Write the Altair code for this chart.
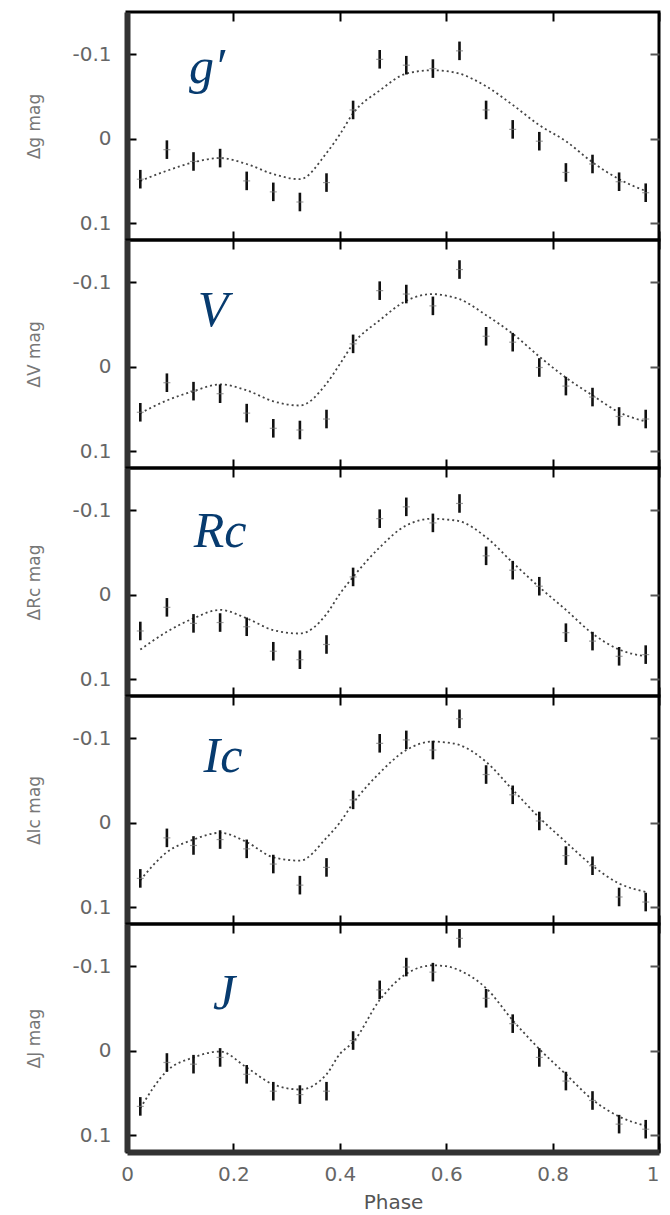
import altair as alt
import pandas as pd

# ---------------- data ----------------
phase = [0.025, 0.075, 0.125, 0.175, 0.225, 0.275, 0.325, 0.375, 0.425, 0.475,
         0.525, 0.575, 0.625, 0.675, 0.725, 0.775, 0.825, 0.875, 0.925, 0.975]

bands = ["g′", "V", "Rc", "Ic", "J"]
ytitles = ["Δg mag", "ΔV mag", "ΔRc mag", "ΔIc mag", "ΔJ mag"]

obs_g = [0.048, 0.013, 0.027, 0.023, 0.050, 0.063, 0.075, 0.052, -0.034, -0.094,
         -0.087, -0.083, -0.104, -0.034, -0.011, 0.003, 0.040, 0.030, 0.051, 0.064]
obs_V = [0.054, 0.019, 0.029, 0.032, 0.055, 0.073, 0.075, 0.062, -0.027, -0.090,
         -0.086, -0.072, -0.115, -0.036, -0.029, 0.001, 0.023, 0.036, 0.059, 0.062]
obs_Rc = [0.043, 0.015, 0.034, 0.033, 0.038, 0.067, 0.077, 0.059, -0.021, -0.090,
          -0.104, -0.085, -0.108, -0.046, -0.029, -0.010, 0.045, 0.055, 0.073, 0.071]
obs_Ic = [0.066, 0.018, 0.027, 0.020, 0.031, 0.049, 0.074, 0.053, -0.027, -0.094,
          -0.098, -0.086, -0.123, -0.057, -0.033, -0.002, 0.039, 0.051, 0.088, 0.094]
obs_J = [0.066, 0.014, 0.016, 0.008, 0.028, 0.048, 0.052, 0.048, -0.012, -0.072,
         -0.099, -0.093, -0.133, -0.062, -0.032, 0.008, 0.036, 0.059, 0.087, 0.093]

err = [0.011, 0.011, 0.011, 0.011, 0.011, 0.011, 0.011, 0.011, 0.011, 0.011,
       0.011, 0.011, 0.011, 0.011, 0.011, 0.011, 0.011, 0.011, 0.011, 0.011]

model_phase = [0.025, 0.075, 0.125, 0.175, 0.225, 0.275, 0.325, 0.375, 0.4, 0.425, 0.475,
               0.525, 0.575, 0.6, 0.625, 0.675, 0.725, 0.775, 0.825, 0.875, 0.925, 0.975]
model_g = [0.050, 0.038, 0.028, 0.023, 0.030, 0.042, 0.048, 0.017, -0.005, -0.030, -0.057,
           -0.077, -0.081, -0.080, -0.077, -0.062, -0.040, -0.016, 0.003, 0.028, 0.048, 0.062]
model_V = [0.055, 0.040, 0.029, 0.021, 0.028, 0.041, 0.046, 0.020, -0.003, -0.027, -0.055,
           -0.078, -0.086, -0.084, -0.080, -0.061, -0.039, -0.012, 0.013, 0.034, 0.054, 0.065]
model_Rc = [0.065, 0.044, 0.028, 0.018, 0.028, 0.042, 0.046, 0.023, -0.001, -0.021, -0.056,
            -0.082, -0.090, -0.089, -0.087, -0.068, -0.038, -0.009, 0.018, 0.046, 0.065, 0.073]
model_Ic = [0.068, 0.035, 0.020, 0.012, 0.023, 0.041, 0.045, 0.018, 0.000, -0.023, -0.059,
            -0.086, -0.096, -0.095, -0.092, -0.072, -0.039, -0.006, 0.023, 0.051, 0.072, 0.082]
model_J = [0.068, 0.024, 0.008, 0.001, 0.020, 0.040, 0.046, 0.028, 0.004, -0.010, -0.060,
           -0.091, -0.101, -0.100, -0.095, -0.074, -0.036, -0.002, 0.028, 0.058, 0.078, 0.089]

obs_all = [obs_g, obs_V, obs_Rc, obs_Ic, obs_J]
model_all = [model_g, model_V, model_Rc, model_Ic, model_J]

x_ticks = [0, 0.2, 0.4, 0.6, 0.8, 1]
y_ticks = [-0.1, 0, 0.1]

# ---------------- style ----------------
W, H = 532, 228
label_pos = [(80, 71), (86, 86), (93, 79), (96, 76), (97, 85)]
label_expr = "replace(format(datum.value, '~g'), '\u2212', '-')"
inward = {"expr": "-9"}

xs = alt.Scale(domain=[0, 1], nice=False, zero=False)
ys = alt.Scale(domain=[-0.15, 0.12], reverse=True, nice=False, zero=False)


def panel(i):
    bottom = i == len(bands) - 1
    obs = obs_all[i]
    df = pd.DataFrame({
        "phase": phase,
        "mag": obs,
        "lo": [o - e for o, e in zip(obs, err)],
        "hi": [o + e for o, e in zip(obs, err)],
    })
    mdf = pd.DataFrame({"phase": model_phase, "mag": model_all[i]})

    if bottom:
        x_bottom = alt.Axis(
            orient="bottom", values=x_ticks, tickSize=inward, tickWidth=2,
            tickColor="black", domain=True, domainColor="#333333", domainWidth=6,
            labels=True, labelPadding=21, labelFont="DejaVu Sans", labelFontSize=20,
            labelColor="#666666", labelExpr=label_expr, grid=False,
            labelAlign={"expr": "datum.value == 1 ? 'right' : 'center'"},
            title="Phase", titleFont="DejaVu Sans", titleFontSize=20,
            titleFontWeight="normal", titleColor="#555555", titlePadding=8,
        )
    else:
        x_bottom = alt.Axis(
            orient="bottom", values=x_ticks, tickSize=inward, tickWidth=2,
            tickColor="black", domain=False, labels=False, grid=False, title=None,
            minExtent=0, maxExtent=0,
        )
    y_left = alt.Axis(
        orient="left", values=y_ticks, tickSize=inward, tickWidth=2,
        tickColor="black", domain=True, domainColor="#333333", domainWidth=6,
        labelPadding=25, labelFont="DejaVu Sans", labelFontSize=20,
        labelColor="#666666", labelExpr=label_expr, grid=False,
        title=ytitles[i], titleFont="DejaVu Sans", titleFontSize=17,
        titleFontWeight="normal", titleColor="#777777", titlePadding=28,
    )
    x_top = alt.Axis(
        orient="top", values=x_ticks, tickSize=inward, tickWidth=2,
        tickColor="black", domain=False, labels=False, grid=False, title=None,
        minExtent=0, maxExtent=0,
    )
    y_right = alt.Axis(
        orient="right", values=y_ticks, tickSize=inward, tickWidth=2,
        tickColor="#555555", domain=False, labels=False, grid=False, title=None,
        minExtent=0, maxExtent=0,
    )

    curve = alt.Chart(mdf).mark_line(
        strokeDash=[2, 3], strokeWidth=1.8, color="#444444", interpolate="monotone"
    ).encode(
        x=alt.X("phase:Q", scale=xs, axis=x_top),
        y=alt.Y("mag:Q", scale=ys, axis=y_right),
    )
    bars = alt.Chart(df).mark_rule(color="#111111", strokeWidth=2.6).encode(
        x=alt.X("phase:Q", scale=xs, axis=x_bottom),
        y=alt.Y("lo:Q", scale=ys, axis=y_left),
        y2="hi:Q",
    )
    cross = alt.Chart(df).mark_tick(
        orient="horizontal", size=7, thickness=1.2, color="#777777"
    ).encode(
        x=alt.X("phase:Q", scale=xs, axis=None),
        y=alt.Y("mag:Q", scale=ys, axis=None),
    )
    lx, ly = label_pos[i]
    label = alt.Chart(pd.DataFrame({"t": [bands[i]]})).mark_text(
        font="Liberation Serif", fontStyle="italic", fontSize=50,
        color="#073b6f", align="center", baseline="alphabetic",
    ).encode(text="t:N", x=alt.value(lx), y=alt.value(ly))

    return alt.layer(curve, bars, cross, label).resolve_axis(
        x="independent", y="independent"
    ).properties(width=W, height=H)


chart = alt.vconcat(
    *[panel(i) for i in range(len(bands))], spacing=0, bounds="flush"
).properties(
    padding={"left": 16, "top": 1, "right": 0, "bottom": 0}
).configure_view(stroke="black", strokeWidth=3)

chart.save("out.html", embed_options={"renderer": "svg", "actions": False})
